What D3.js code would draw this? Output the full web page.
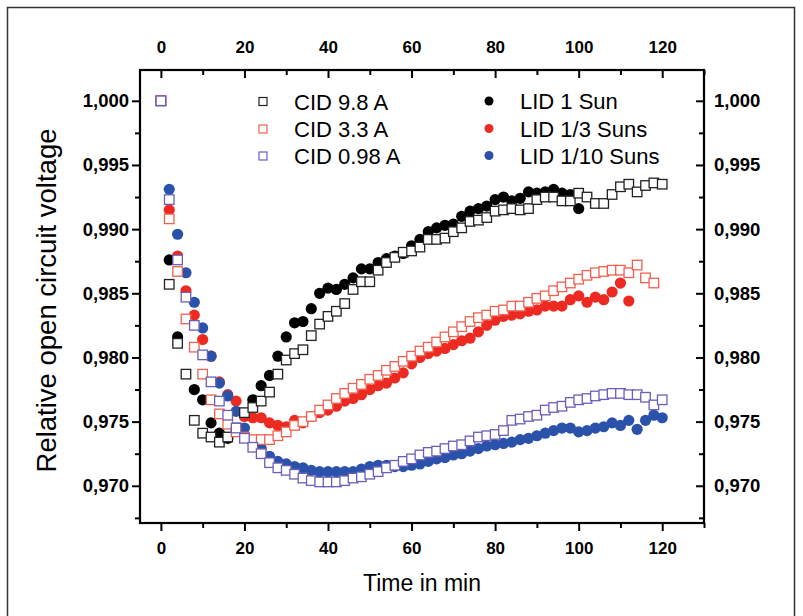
<!DOCTYPE html>
<html>
<head>
<meta charset="utf-8">
<script src="https://cdn.jsdelivr.net/npm/d3@7"></script>
<style>
  body { margin: 0; background: #fff; }
  svg { display: block; }
  text { font-family: "Liberation Sans", Arial, sans-serif; }
</style>
</head>
<body>
<div id="chart"></div>
<script>
// DATA
//=====================
var timeAll = [0, 2, 4, 6, 8, 10, 12, 14, 16, 18, 20, 22, 24, 26, 28, 30, 32, 34, 36, 38, 40,
  42, 44, 46, 48, 50, 52, 54, 56, 58, 60, 62, 64, 66, 68, 70, 72, 74, 76, 78, 80,
  82, 84, 86, 88, 90, 92, 94, 96, 98, 100, 102, 104, 106, 108, 110, 112, 114, 116, 118, 120];

var timeLID1 = [2, 4, 8, 10, 12, 14, 16, 22, 24, 26, 28, 30, 32, 34, 36, 38, 40, 42, 44, 46, 48,
  50, 52, 54, 56, 58, 60, 62, 64, 66, 68, 70, 72, 74, 76, 78, 80, 82, 84, 86, 88, 90,
  92, 94, 96, 98, 100];

var cid98 = [1.0000, 0.9857, 0.9811, 0.9787, 0.9751, 0.9741, 0.9738, 0.9734, 0.9738, 0.9745,
  0.9757, 0.9761, 0.9766, 0.9773, 0.9787, 0.9798, 0.9803, 0.9806, 0.9817, 0.9826,
  0.9832, 0.9836, 0.9842, 0.9853, 0.9859, 0.9859, 0.9868, 0.9874, 0.9878, 0.9882,
  0.9883, 0.9886, 0.9892, 0.9892, 0.9893, 0.9898, 0.9901, 0.9906, 0.9907, 0.9909,
  0.9914, 0.9915, 0.9916, 0.9915, 0.9916, 0.9923, 0.9925, 0.9925, 0.9922, 0.9922,
  0.9928, 0.9925, 0.9920, 0.9920, 0.9927, 0.9933, 0.9935, 0.9929, 0.9934, 0.9936, 0.9935];

var cid33 = [1.0000, 0.9908, 0.9867, 0.9830, 0.9808, 0.9787, 0.9767, 0.9756, 0.9748, 0.9742,
  0.9738, 0.9736, 0.9736, 0.9736, 0.9739, 0.9742, 0.9747, 0.9750, 0.9754, 0.9759,
  0.9763, 0.9768, 0.9772, 0.9776, 0.9779, 0.9783, 0.9786, 0.9790, 0.9793, 0.9797,
  0.9801, 0.9805, 0.9808, 0.9812, 0.9816, 0.9820, 0.9824, 0.9828, 0.9831, 0.9833,
  0.9836, 0.9837, 0.9840, 0.9840, 0.9843, 0.9846, 0.9848, 0.9852, 0.9855, 0.9858,
  0.9861, 0.9864, 0.9866, 0.9867, 0.9868, 0.9868, 0.9866, 0.9872, 0.9862, 0.9858];

var cid098 = [1.0000, 0.9923, 0.9876, 0.9847, 0.9825, 0.9802, 0.9781, 0.9766, 0.9755, 0.9745,
  0.9737, 0.9730, 0.9725, 0.9718, 0.9714, 0.9712, 0.9709, 0.9706, 0.9704, 0.9703,
  0.9703, 0.9703, 0.9704, 0.9706, 0.9707, 0.9709, 0.9711, 0.9714, 0.9716, 0.9719,
  0.9721, 0.9724, 0.9726, 0.9727, 0.9729, 0.9731, 0.9732, 0.9735, 0.9738, 0.9739,
  0.9740, 0.9743, 0.9751, 0.9752, 0.9754, 0.9755, 0.9759, 0.9761, 0.9762, 0.9765,
  0.9767, 0.9768, 0.9770, 0.9771, 0.9772, 0.9772, 0.9771, 0.9771, 0.9769, 0.9763, 0.9767];

var lid1 = [0.9876, 0.9816, 0.9775, 0.9767, 0.9749, 0.9741, 0.9737, 0.9767, 0.9778, 0.9786,
  0.9801, 0.9816, 0.9827, 0.9828, 0.9838, 0.9850, 0.9854, 0.9853, 0.9857, 0.9862,
  0.9869, 0.9869, 0.9874, 0.9877, 0.9879, 0.9881, 0.9887, 0.9892, 0.9898, 0.9901,
  0.9903, 0.9904, 0.9910, 0.9914, 0.9916, 0.9918, 0.9923, 0.9925, 0.9922, 0.9924,
  0.9929, 0.9928, 0.9929, 0.9931, 0.9928, 0.9927, 0.9916];

var lid13 = [0.9915, 0.9879, 0.9852, 0.9833, 0.9814, 0.9801, 0.9781, 0.9771, 0.9766, 0.9754,
  0.9753, 0.9753, 0.9749, 0.9747, 0.9746, 0.9751, 0.9749, 0.9754, 0.9757, 0.9759,
  0.9762, 0.9766, 0.9768, 0.9771, 0.9775, 0.9778, 0.9780, 0.9784, 0.9788, 0.9795,
  0.9800, 0.9803, 0.9805, 0.9807, 0.9810, 0.9813, 0.9815, 0.9820, 0.9825, 0.9829,
  0.9832, 0.9833, 0.9834, 0.9836, 0.9837, 0.9840, 0.9840, 0.9840, 0.9845, 0.9848,
  0.9843, 0.9847, 0.9845, 0.9851, 0.9858, 0.9844];

var lid110 = [0.9931, 0.9896, 0.9866, 0.9843, 0.9823, 0.9801, 0.9780, 0.9770, 0.9758, 0.9745,
  0.9735, 0.9729, 0.9723, 0.9719, 0.9717, 0.9715, 0.9714, 0.9712, 0.9711, 0.9711,
  0.9711, 0.9711, 0.9711, 0.9713, 0.9715, 0.9716, 0.9716, 0.9715, 0.9715, 0.9716,
  0.9717, 0.9719, 0.9721, 0.9722, 0.9724, 0.9725, 0.9727, 0.9729, 0.9731, 0.9732,
  0.9733, 0.9734, 0.9736, 0.9737, 0.9739, 0.9741, 0.9743, 0.9745, 0.9745, 0.9742,
  0.9743, 0.9745, 0.9746, 0.9749, 0.9747, 0.9751, 0.9744, 0.9751, 0.9755, 0.9753];

var yMajor = [0.970, 0.975, 0.980, 0.985, 0.990, 0.995, 1.000];
var yMinor = [0.9675, 0.9725, 0.9775, 0.9825, 0.9875, 0.9925, 0.9975];
var xMajor = [0, 20, 40, 60, 80, 100, 120];
var xMinor = [10, 30, 50, 70, 90, 110, 130];

var squareSeries = [
  { name: "CID 9.8 A", time: timeAll, values: cid98, color: "#222222" },
  { name: "CID 3.3 A", time: timeAll.slice(0, cid33.length), values: cid33, color: "#f0604f" },
  { name: "CID 0.98 A", time: timeAll, values: cid098, color: "#6a5fb8" }
];
var dotSeries = [
  { name: "LID 1 Sun", time: timeLID1, values: lid1, color: "#000000" },
  { name: "LID 1/3 Suns", time: timeAll.slice(1, lid13.length + 1), values: lid13, color: "#ec2a22" },
  { name: "LID 1/10 Suns", time: timeAll.slice(1, lid110.length + 1), values: lid110, color: "#2b52ab" }
];

// SVG + PLOT AREA
//=====================
var svgWidth = 803;
var svgHeight = 616;
var plot = { left: 140, right: 704, top: 70, bottom: 523 };

var svg = d3.select("#chart")
  .append("svg")
  .attr("width", svgWidth)
  .attr("height", svgHeight);

// outer figure border
svg.append("rect")
  .attr("x", 7.5).attr("y", 7.5)
  .attr("width", 787).attr("height", 640)
  .attr("fill", "none")
  .attr("stroke", "#333")
  .attr("stroke-width", 1.5);

var xScale = d3.scaleLinear().domain([-5, 130]).range([plot.left, plot.right]);
var yScale = d3.scaleLinear().domain([0.9671, 1.0024]).range([plot.bottom, plot.top]);

var fmt = function(d) { return d3.format(".3f")(d).replace(".", ","); };

// AXES
//=====================
function styleAxis(g, size) {
  g.select(".domain").remove();
  g.selectAll("line").attr("stroke", "#000").attr("stroke-width", 2);
  g.selectAll("text")
    .attr("fill", "#000")
    .attr("font-family", "'Liberation Sans', Arial, sans-serif")
    .attr("font-weight", "bold")
    .attr("font-size", size);
}

svg.append("g")
  .attr("transform", `translate(${plot.left},0)`)
  .call(d3.axisLeft(yScale).tickValues(yMajor).tickSize(8).tickPadding(3).tickFormat(fmt))
  .call(styleAxis, 18.5);
svg.append("g")
  .attr("transform", `translate(${plot.left},0)`)
  .call(d3.axisLeft(yScale).tickValues(yMinor).tickSize(5).tickFormat(""))
  .call(styleAxis, 18);

svg.append("g")
  .attr("transform", `translate(${plot.right},0)`)
  .call(d3.axisRight(yScale).tickValues(yMajor).tickSize(-8).tickPadding(10).tickFormat(fmt))
  .call(styleAxis, 18.5);
svg.append("g")
  .attr("transform", `translate(${plot.right},0)`)
  .call(d3.axisRight(yScale).tickValues(yMinor).tickSize(-5).tickFormat(""))
  .call(styleAxis, 18);

svg.append("g")
  .attr("transform", `translate(0,${plot.bottom})`)
  .call(d3.axisBottom(xScale).tickValues(xMajor).tickSize(8).tickPadding(11))
  .call(styleAxis, 17);
svg.append("g")
  .attr("transform", `translate(0,${plot.bottom})`)
  .call(d3.axisBottom(xScale).tickValues(xMinor).tickSize(5).tickFormat(""))
  .call(styleAxis, 17);

svg.append("g")
  .attr("transform", `translate(0,${plot.top})`)
  .call(d3.axisTop(xScale).tickValues(xMajor).tickSize(-8).tickPadding(17))
  .call(styleAxis, 17);
svg.append("g")
  .attr("transform", `translate(0,${plot.top})`)
  .call(d3.axisTop(xScale).tickValues(xMinor).tickSize(-5).tickFormat(""))
  .call(styleAxis, 17);

// frame
svg.append("rect")
  .attr("x", plot.left).attr("y", plot.top)
  .attr("width", plot.right - plot.left)
  .attr("height", plot.bottom - plot.top)
  .attr("fill", "none")
  .attr("stroke", "#000")
  .attr("stroke-width", 2.2);

// POINTS
//=====================
var sq = 9.5;

dotSeries.forEach(function(s) {
  svg.append("g").selectAll("circle")
    .data(s.values)
    .enter()
    .append("circle")
    .attr("cx", (d, i) => xScale(s.time[i]))
    .attr("cy", d => yScale(d))
    .attr("r", 5.6)
    .attr("fill", s.color);
});

squareSeries.forEach(function(s) {
  svg.append("g").selectAll("rect")
    .data(s.values)
    .enter()
    .append("rect")
    .attr("x", (d, i) => xScale(s.time[i]) - sq / 2)
    .attr("y", d => yScale(d) - sq / 2)
    .attr("width", sq)
    .attr("height", sq)
    .attr("fill", "#fff")
    .attr("stroke", s.color)
    .attr("stroke-width", 1.3);
});

// LEGENDS
//=====================
var legendRows = [101.5, 129, 156];

squareSeries.forEach(function(s, i) {
  svg.append("rect")
    .attr("x", 263 - 4).attr("y", legendRows[i] - 4)
    .attr("width", 8).attr("height", 8)
    .attr("fill", "#fff").attr("stroke", s.color).attr("stroke-width", 1.2);
  svg.append("text")
    .attr("x", 294).attr("y", legendRows[i] + 8)
    .attr("font-size", 22)
    .text(s.name);
});

dotSeries.forEach(function(s, i) {
  svg.append("circle")
    .attr("cx", 489).attr("cy", legendRows[i] - 0.5)
    .attr("r", 4.5)
    .attr("fill", s.color);
  svg.append("text")
    .attr("x", 520).attr("y", legendRows[i] + 7.5)
    .attr("font-size", 22)
    .text(s.name);
});

// AXIS TITLES
//=====================
svg.append("text")
  .attr("transform", `translate(56, ${(plot.top + plot.bottom) / 2 + 4}) rotate(-90)`)
  .attr("text-anchor", "middle")
  .attr("font-size", 27.5)
  .text("Relative open circuit voltage");

svg.append("text")
  .attr("x", (plot.left + plot.right) / 2)
  .attr("y", 591)
  .attr("text-anchor", "middle")
  .attr("font-size", 23)
  .text("Time in min");
</script>
</body>
</html>
